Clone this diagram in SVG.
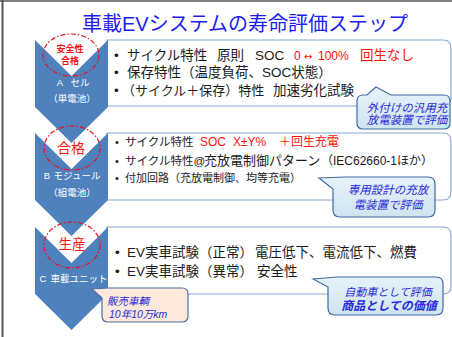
<svg xmlns="http://www.w3.org/2000/svg" width="452" height="337" viewBox="0 0 452 337">
<defs>
<linearGradient id="cg" x1="0" y1="0" x2="0" y2="1"><stop offset="0" stop-color="#e6f2f9"/><stop offset="1" stop-color="#cfe4f0"/></linearGradient>
<style>
text{font-family:"Liberation Sans","Noto Sans CJK JP",sans-serif}
.box{fill:#fff;stroke:#86a7d6;stroke-width:1.2}
.chev{fill:#4f81bd}
.ring{fill:none;stroke:#e8141e;stroke-width:1.2;stroke-dasharray:5 2 1.5 2}
.lab{fill:#fff;font-size:9.5px;text-anchor:middle}
.b{fill:#1a1a1a}
.red{fill:#ff1010}
.call{fill:url(#cg);stroke:#41699f;stroke-width:1.2}
.ct{fill:#2a2ad8;font-style:italic;text-anchor:middle}
</style>
</defs>
<rect width="452" height="337" fill="#fff"/>
<line x1="2.5" y1="0" x2="2.5" y2="337" stroke="#555" stroke-width="2"/>
<line x1="0" y1="1" x2="452" y2="1" stroke="#555" stroke-width="1.5"/>
<text x="245" y="31" font-size="20" fill="#1c1cf5" text-anchor="middle">車載EVシステムの寿命評価ステップ</text>

<g id="stepA">
<path class="box" d="M107,40 H443 Q451,40 451,48 V98 Q451,106 443,106 H107 Z"/>
<path class="chev" d="M35,40 L71.5,76 L108,40 L108,107 L71.5,143 L35,107 Z"/>
<ellipse class="ring" cx="71" cy="55" rx="28" ry="21"/>
<text x="70" y="51.5" font-size="9" font-weight="bold" class="red" text-anchor="middle">安全性</text>
<text x="70" y="63.5" font-size="9" font-weight="bold" class="red" text-anchor="middle">合格</text>
<text class="lab" y="86"><tspan x="60">A</tspan><tspan x="80">セル</tspan></text>
<text class="lab" x="72" y="102">（単電池）</text>
<g class="b" font-size="13.5">
<text x="114" y="60">•</text><text x="114" y="77">•</text><text x="114" y="95">•</text>
<text y="60"><tspan x="127">サイクル特性</tspan><tspan x="217">原則</tspan><tspan x="255">SOC</tspan></text>
<text y="60" class="red"><tspan x="294" font-size="12">0</tspan><tspan x="304" font-size="10" font-family="DejaVu Sans">↔</tspan><tspan x="318" font-size="12">100%</tspan><tspan x="360">回生なし</tspan></text>
<text x="127" y="77">保存特性（温度負荷、SOC状態）</text>
<text y="95"><tspan x="122" font-size="13">（サイクル＋保存）特性</tspan><tspan x="273">加速劣化試験</tspan></text>
</g>
</g>

<g id="stepB">
<path class="box" d="M107,133 H443 Q451,133 451,141 V192 Q451,200 443,200 H107 Z"/>
<path class="chev" d="M35,133 L71.5,169 L108,133 L108,200 L71.5,236 L35,200 Z"/>
<ellipse class="ring" cx="72" cy="148" rx="28" ry="22"/>
<text x="71" y="153" font-size="14" class="red" text-anchor="middle">合格</text>
<text class="lab" y="179"><tspan x="47">B</tspan><tspan x="77">モジュール</tspan></text>
<text class="lab" x="72" y="196">（組電池）</text>
<g class="b" font-size="11.5">
<text x="115" y="146" font-size="11">•</text><text x="115" y="164.5" font-size="11">•</text><text x="115" y="182" font-size="11">•</text>
<text x="125" y="146">サイクル特性</text>
<text y="146" class="red" font-size="12"><tspan x="200">SOC</tspan><tspan x="233">X±Y%</tspan><tspan x="279">＋回生充電</tspan></text>
<text y="164.5"><tspan x="125">サイクル特性@</tspan><tspan x="204" font-size="13">充放電制御パターン</tspan><tspan x="321" font-size="12">（IEC62660-1ほか）</tspan></text>
<text x="125" y="182" font-size="11">付加回路（充放電制御、均等充電）</text>
</g>
</g>

<g id="stepC">
<path class="box" d="M107,227 H443 Q451,227 451,235 V286 Q451,294 443,294 H107 Z"/>
<path class="chev" d="M35,227 L71.5,263 L108,227 L108,294 L71.5,330 L35,294 Z"/>
<ellipse class="ring" cx="72" cy="245" rx="28" ry="23"/>
<text x="72" y="249" font-size="13.5" class="red" text-anchor="middle">生産</text>
<text class="lab" y="282"><tspan x="43">C</tspan><tspan x="79">車載ユニット</tspan></text>
<g class="b" font-size="13.5">
<text x="115" y="257">•</text><text x="115" y="276">•</text>
<text y="257"><tspan x="127">EV実車試験（正常）</tspan><tspan x="255">電圧低下、電流低下、燃費</tspan></text>
<text y="276"><tspan x="127">EV実車試験（異常）</tspan><tspan x="257">安全性</tspan></text>
</g>
</g>

<g id="noteA">
<path class="call" d="M363,95 H367 L376,87 L391,95 H444 Q450,95 450,101 V123 Q450,129 444,129 H363 Q357,129 357,123 V101 Q357,95 363,95 Z"/>
<text class="ct" x="407" y="111.5" font-size="11.5">外付けの汎用充</text>
<text class="ct" x="407" y="124" font-size="11.5">放電装置で評価</text>
</g>
<g id="noteB">
<path class="call" d="M319,178 L345,177 H428 Q435,177 435,184 V210 Q435,217 428,217 H340 Q333,217 333,210 V189 Z"/>
<text class="ct" x="388" y="194" font-size="11.5">専用設計の充放</text>
<text class="ct" x="388" y="209" font-size="11.5">電装置で評価</text>
</g>
<g id="noteC">
<path class="call" d="M313,279 L337,277 H436 Q443,277 443,284 V308 Q443,315 436,315 H335 Q328,315 328,308 V287 Z"/>
<text class="ct" x="388" y="296" font-size="11">自動車として評価</text>
<text class="ct" x="389" y="309.5" font-size="12" font-weight="bold" fill="#0f0fc8">商品としての価値</text>
</g>
<g id="noteD">
<path d="M92,289 L108,288 H182 Q188,288 188,294 V316 Q188,322 182,322 H108 Q102,322 102,316 V298 Z" fill="#fde9dc" stroke="#4f6fa0" stroke-width="1.2"/>
<text x="107" y="305" font-size="10.5" fill="#2a2ad8" font-style="italic">販売車輌</text>
<text x="109" y="317.5" font-size="10.5" fill="#2a2ad8" font-style="italic">10年10万km</text>
</g>
</svg>
